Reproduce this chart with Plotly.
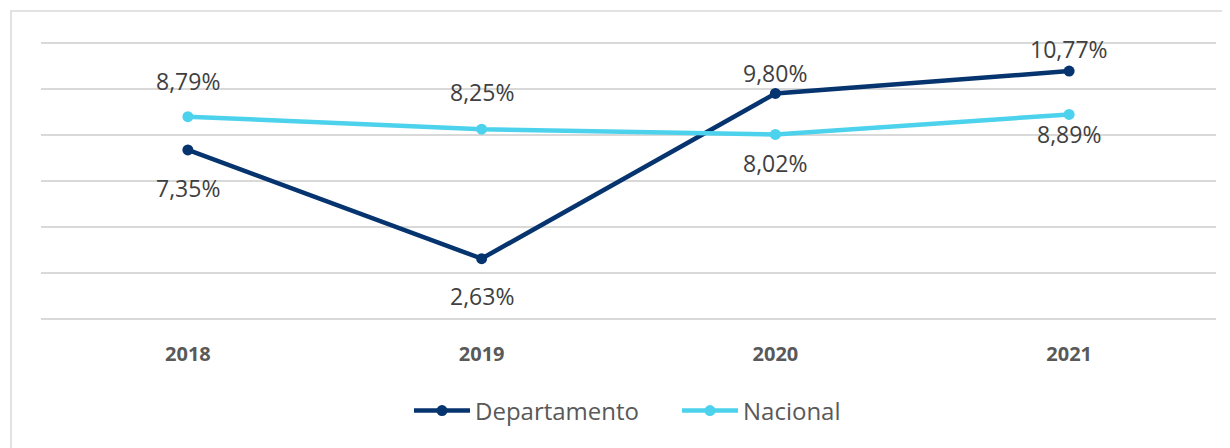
import plotly.graph_objects as go

years = ["2018", "2019", "2020", "2021"]
departamento = [7.35, 2.63, 9.80, 10.77]
nacional = [8.79, 8.25, 8.02, 8.89]

dep_color = "#06346f"
nac_color = "#4cd2ec"
font_family = "Open Sans, Lato, sans-serif"

def fmt(v):
    return f"{v:.2f}%".replace(".", ",")

fig = go.Figure()
fig.add_trace(go.Scatter(x=years, y=departamento, name="Departamento", mode="lines+markers",
                         line=dict(color=dep_color, width=4.5), marker=dict(size=11, color=dep_color)))
fig.add_trace(go.Scatter(x=years, y=nacional, name="Nacional", mode="lines+markers",
                         line=dict(color=nac_color, width=4.5), marker=dict(size=11, color=nac_color)))

dep_shift = [-38, -37, 20, 22]
nac_shift = [36, 37, -29, -20]
for ys, shifts in ((departamento, dep_shift), (nacional, nac_shift)):
    for i, (yv, s) in enumerate(zip(ys, shifts)):
        fig.add_annotation(x=i, y=yv, xref="x", yref="y", text=fmt(yv), showarrow=False,
                           yshift=s, font=dict(size=23, color="#404040", family=font_family))

# page body has an 8px offset; compensate
OFF = 8
W, H = 1230 - OFF, 448 - OFF
l, t = 41 - OFF, 40 - OFF
r = W - (1216 - OFF)
b = H - (322 - OFF)
pw, ph = W - l - r, H - t - b

def px(x):
    return (x - OFF - l) / pw

def py(y):
    return (H - b - (y - OFF)) / ph

fig.update_layout(
    width=W, height=H,
    margin=dict(l=l, r=r, t=t, b=b, autoexpand=False),
    paper_bgcolor="white", plot_bgcolor="white",
    font=dict(family=font_family, color="#595959"),
    showlegend=True,
    legend=dict(orientation="h", x=px(409), xanchor="left", y=py(411), yanchor="middle",
                font=dict(size=24, color="#595959"), itemwidth=56, entrywidth=197),
    shapes=[dict(type="rect", xref="paper", yref="paper",
                 x0=px(11), x1=px(1240), y0=py(460), y1=py(11),
                 line=dict(color="#d9d9d9", width=1.5), fillcolor="rgba(0,0,0,0)", layer="below")],
    xaxis=dict(type="category", range=[-0.5, 3.5], showgrid=False, zeroline=False,
               showline=False, ticks="",
               tickfont=dict(size=20, color="#595959", family=font_family, weight="bold"),
               ticklabelstandoff=18),
    yaxis=dict(range=[-0.12, 12.12], dtick=2, tick0=0, showticklabels=False, showgrid=True,
               gridcolor="#d9d9d9", gridwidth=1.5, zeroline=False, showline=False),
)

fig.write_html("out.html")
